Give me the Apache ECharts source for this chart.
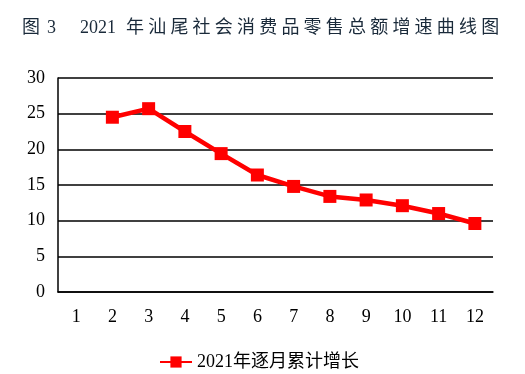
<!DOCTYPE html>
<html><head><meta charset="utf-8">
<script src="https://cdn.jsdelivr.net/npm/echarts@6/dist/echarts.min.js"></script>
<style>html,body{margin:0;padding:0;background:#fff}#c{width:525px;height:374px}</style>
</head><body><div id="c"></div>
<script>
var titlePrefix = ['图', '3', '2021'];
var titleChars = '年汕尾社会消费品零售总额增速曲线图'.split('');
var seriesName = '2021年逐月累计增长';
var categories = ['1','2','3','4','5','6','7','8','9','10','11','12'];
var values = [null, 24.5, 25.7, 22.5, 19.4, 16.4, 14.8, 13.4, 12.9, 12.1, 11.0, 9.6];
var yTicks = [0, 5, 10, 15, 20, 25, 30];
var font = '"Liberation Serif", "DejaVu Serif", "Noto Sans CJK SC", serif';
var titleColor = '#1a2a3a';
var titleStyle = function (t, x) {
  return {type: 'text', left: x, top: 19,
    style: {text: t, font: 'normal 18px ' + font, fill: titleColor}};
};
var prefixX = [22, 47, 80];
var graphics = [];
titlePrefix.forEach(function (t, i) { graphics.push(titleStyle(t, prefixX[i])); });
titleChars.forEach(function (t, i) { graphics.push(titleStyle(t, 126 + i * 22.2)); });

var chart = echarts.init(document.getElementById('c'), null, {renderer: 'canvas'});
chart.setOption({
  animation: false,
  backgroundColor: '#fff',
  graphic: graphics,
  grid: {left: 58, right: 32, top: 78, bottom: 82},
  legend: {
    data: [seriesName], top: 348, left: 154,
    itemWidth: 32, itemHeight: 14, itemGap: 4,
    textStyle: {fontFamily: font, fontSize: 18, color: '#000'}
  },
  xAxis: {
    type: 'category', data: categories, boundaryGap: true,
    axisLine: {lineStyle: {color: '#000', width: 1.5}},
    axisTick: {inside: true, length: 7, lineStyle: {color: '#000', width: 1.5}},
    axisLabel: {fontFamily: font, fontSize: 18, color: '#000', margin: 16},
    splitLine: {show: false}
  },
  yAxis: {
    type: 'value', min: yTicks[0], max: yTicks[yTicks.length-1], interval: 5,
    axisLine: {show: true, lineStyle: {color: '#000', width: 1.5}},
    axisTick: {show: false},
    axisLabel: {fontFamily: font, fontSize: 18, color: '#000', margin: 13},
    splitLine: {lineStyle: {color: '#000', width: 1.5}}
  },
  series: [{
    name: seriesName, type: 'line', data: values,
    symbol: 'rect', symbolSize: 13,
    lineStyle: {color: '#ff0000', width: 4.5},
    itemStyle: {color: '#ff0000'},
    connectNulls: false
  }]
});
</script></body></html>
